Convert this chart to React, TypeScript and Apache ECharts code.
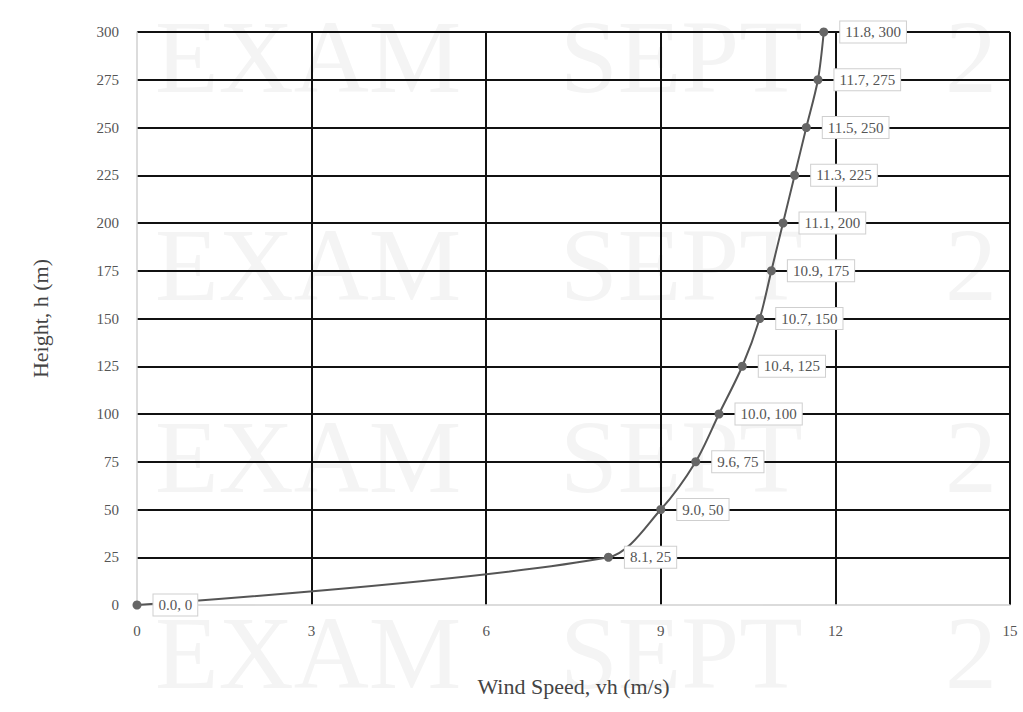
import React, { useEffect, useRef } from "react";
import * as echarts from "echarts";

const windSpeed = [0.0, 8.1, 9.0, 9.6, 10.0, 10.4, 10.7, 10.9, 11.1, 11.3, 11.5, 11.7, 11.8];
const heights = [0, 25, 50, 75, 100, 125, 150, 175, 200, 225, 250, 275, 300];
const xTicks = { min: 0, max: 15, interval: 3 };
const yTicks = { min: 0, max: 300, interval: 25 };
const watermarkWords = ["EXAM", "SEPT", "2"];

const FONT = "'Liberation Serif', 'DejaVu Serif', serif";

export default function App() {
  const ref = useRef<HTMLDivElement>(null);
  useEffect(() => {
    if (!ref.current) return;
    const chart = echarts.init(ref.current, undefined, { renderer: "svg" });
    const data = windSpeed.map((v, i) => [v, heights[i]]);
    const rowTops = [4, 212, 404, 600];
    const wordLefts = [155, 560, 945];
    const graphics: any[] = [];
    rowTops.forEach((t) => {
      watermarkWords.forEach((w, j) => {
        graphics.push({
          type: "text",
          left: wordLefts[j],
          top: t,
          z: -10,
          silent: true,
          style: { text: w, fontFamily: FONT, fontSize: 104, fill: "#f4f4f4" },
        });
      });
    });
    chart.setOption({
      animation: false,
      backgroundColor: "#ffffff",
      textStyle: { fontFamily: FONT },
      graphic: graphics,
      grid: { left: 137, right: 13, top: 32, bottom: 107 },
      xAxis: {
        type: "value",
        min: xTicks.min,
        max: xTicks.max,
        interval: xTicks.interval,
        name: "Wind Speed, vh (m/s)",
        nameLocation: "middle",
        nameGap: 70,
        nameTextStyle: { fontFamily: FONT, fontSize: 22, color: "#444" },
        axisLine: { show: true, lineStyle: { color: "#d0d0d0", width: 1.5 } },
        axisTick: { show: false },
        axisLabel: { fontFamily: FONT, fontSize: 15, color: "#555", margin: 18 },
        splitLine: { show: true, showMinLine: false, lineStyle: { color: "#111", width: 2 } },
      },
      yAxis: {
        type: "value",
        min: yTicks.min,
        max: yTicks.max,
        interval: yTicks.interval,
        name: "Height, h (m)",
        nameLocation: "middle",
        nameGap: 86,
        nameRotate: 90,
        nameTextStyle: { fontFamily: FONT, fontSize: 22, color: "#444" },
        axisLine: { show: true, lineStyle: { color: "#d0d0d0", width: 1.5 } },
        axisTick: { show: false },
        axisLabel: { fontFamily: FONT, fontSize: 15, color: "#555", margin: 18 },
        splitLine: { show: true, showMinLine: false, lineStyle: { color: "#111", width: 2 } },
      },
      series: [
        {
          type: "line",
          data,
          smooth: 0.3,
          symbol: "circle",
          symbolSize: 9,
          itemStyle: { color: "#666" },
          lineStyle: { color: "#555", width: 2 },
          z: 5,
          label: {
            show: true,
            position: "right",
            distance: 12,
            formatter: (p: any) => `${p.value[0].toFixed(1)}, ${p.value[1]}`,
            fontFamily: FONT,
            fontSize: 15,
            color: "#555",
            backgroundColor: "#ffffff",
            borderColor: "#cfcfcf",
            borderWidth: 1,
            padding: [3, 5, 3, 5],
          },
        },
      ],
    });
    return () => chart.dispose();
  }, []);
  return (
    <div
      ref={ref}
      style={{ position: "fixed", left: 0, top: 0, width: 1023, height: 712 }}
    />
  );
}
